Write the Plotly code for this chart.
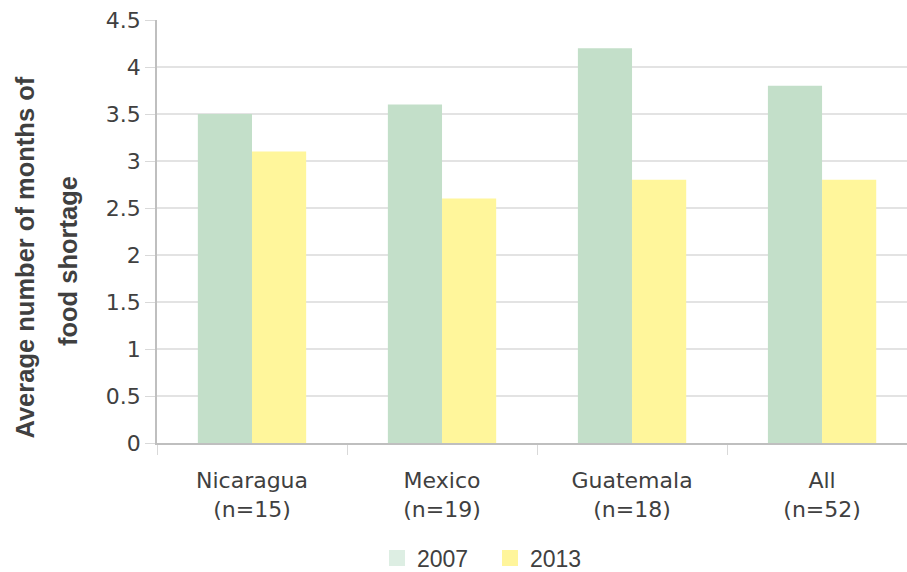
import plotly.graph_objects as go

categories = ["Nicaragua<br>(n=15)", "Mexico<br>(n=19)", "Guatemala<br>(n=18)", "All<br>(n=52)"]
series_names = ["2007", "2013"]
values_2007 = [3.5, 3.6, 4.2, 3.8]
values_2013 = [3.1, 2.6, 2.8, 2.8]
y_ticks = [0, 0.5, 1, 1.5, 2, 2.5, 3, 3.5, 4, 4.5]
title_lines = ["Average number of months of", "food shortage"]

bar_colors = ["#C3DFC9", "#FFF69B"]
legend_colors = ["#DDEEE3", "#FFF59B"]

fig = go.Figure()
for name, vals, col in zip(series_names, [values_2007, values_2013], bar_colors):
    fig.add_trace(go.Bar(name=name, x=categories, y=vals, showlegend=False,
                         marker=dict(color=col, line=dict(width=0))))
# legend entries (square swatches)
for name, col in zip(series_names, legend_colors):
    fig.add_trace(go.Scatter(name=name, x=[None], y=[None], mode="markers",
                             marker=dict(symbol="square", size=18, color=col),
                             showlegend=True))

fig.update_layout(
    width=907, height=572,
    margin=dict(l=157, r=0, t=20, b=129, autoexpand=False),
    plot_bgcolor="white", paper_bgcolor="white",
    barmode="group", bargap=0.43, bargroupgap=0,
    font=dict(family="DejaVu Sans, sans-serif", color="#404040"),
    legend=dict(orientation="h", x=0.444, xanchor="center", y=-0.221, yanchor="top",
                font=dict(size=23, family="Liberation Sans, Arial, sans-serif", color="#404040"),
                entrywidth=68, traceorder="normal", tracegroupgap=0),
    showlegend=True,
)
fig.update_xaxes(
    type="category", range=[-0.5, 3.447],
    showline=True, linecolor="#BFBFBF", linewidth=1.5,
    ticks="outside", tickson="boundaries", ticklen=10, tickcolor="#D9D9D9",
    tickfont=dict(size=22, color="#404040"), ticklabelstandoff=17,
    showgrid=False,
)
fig.update_yaxes(
    range=[0, 4.5], tickvals=y_ticks, ticktext=[str(t) for t in y_ticks],
    showline=True, linecolor="#BFBFBF", linewidth=1.5,
    ticks="outside", ticklen=10, tickcolor="#D9D9D9",
    showgrid=True, gridcolor="#E3E3E3", gridwidth=1.5,
    zeroline=False,
    tickfont=dict(size=22, color="#404040"),
)
title_font = dict(size=25.5, family="Liberation Sans, Arial, sans-serif", color="#404040")
for line, xp, yp in zip(title_lines, [-0.1773, -0.1187], [0.4385, 0.430]):
    fig.add_annotation(text="<b>" + line + "</b>", xref="paper", yref="paper",
                       x=xp, y=yp, xanchor="center", yanchor="middle",
                       textangle=-90, showarrow=False, font=title_font)
fig.write_html("out.html")
